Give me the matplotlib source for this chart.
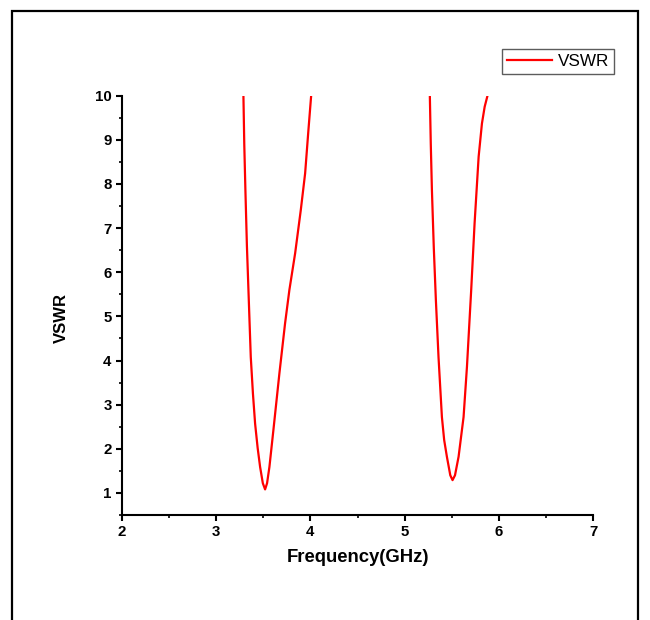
import numpy as np
import matplotlib.pyplot as plt
from matplotlib.patches import Rectangle
from matplotlib.ticker import MultipleLocator

# VSWR curve (two resonance dips, clipped at 10)
freq_band1 = [3.289, 3.298, 3.31, 3.326, 3.346, 3.367, 3.39, 3.413, 3.44,
              3.466, 3.495, 3.519, 3.54, 3.565, 3.607, 3.671, 3.731,
              3.777, 3.838, 3.898, 3.944, 3.979, 4.008]
vswr_band1 = [10.0, 8.9, 7.86, 6.6, 5.37, 4.08, 3.25, 2.57, 2.02,
              1.59, 1.22, 1.08, 1.22, 1.59, 2.42, 3.71, 4.84,
              5.6, 6.43, 7.41, 8.24, 9.22, 10.0]

freq_band2 = [5.268, 5.278, 5.29, 5.31, 5.332, 5.36, 5.396, 5.42, 5.449,
              5.485, 5.509, 5.535, 5.573, 5.626, 5.662, 5.707, 5.743,
              5.786, 5.821, 5.85, 5.88]
vswr_band2 = [10.0, 8.9, 7.86, 6.55, 5.37, 4.08, 2.72, 2.2, 1.82,
              1.4, 1.29, 1.4, 1.82, 2.72, 3.86, 5.6, 7.11,
              8.62, 9.37, 9.75, 10.0]

xticks = [2, 3, 4, 5, 6, 7]
yticks = [1, 2, 3, 4, 5, 6, 7, 8, 9, 10]

plt.rcParams['font.family'] = ['Liberation Sans', 'DejaVu Sans']

fig = plt.figure(figsize=(6.5, 6.2), dpi=100)
ax = fig.add_axes([122 / 650, 1 - 515 / 620, (593 - 122) / 650, (515 - 95.7) / 620])

# gap between the two bands
freq = freq_band1 + [np.nan] + freq_band2
vswr = vswr_band1 + [np.nan] + vswr_band2
ax.plot(freq, vswr, color='#ff0000', lw=1.6, label='VSWR')

ax.set_xlim(2, 7)
ax.set_ylim(0.5, 10)
ax.set_xticks(xticks)
ax.set_yticks(yticks)
ax.xaxis.set_minor_locator(MultipleLocator(0.5))
ax.yaxis.set_minor_locator(MultipleLocator(0.5))

for s in ['top', 'right']:
    ax.spines[s].set_visible(False)
for s in ['left', 'bottom']:
    ax.spines[s].set_linewidth(1.5)

ax.tick_params(which='major', length=4.5, width=1.5, pad=3)
ax.tick_params(which='minor', length=2.5, width=1.2)
for lab in ax.get_xticklabels() + ax.get_yticklabels():
    lab.set_fontsize(10.8)
    lab.set_fontweight('bold')

ax.set_xlabel('Frequency(GHz)', fontsize=13.3, fontweight='bold', labelpad=7)
ax.set_ylabel('VSWR', fontsize=12, fontweight='bold')
ax.yaxis.set_label_coords(-0.112, 0.47)

leg = ax.legend(loc='upper left', bbox_to_anchor=((502 - 122) / 471, 1 + (95.7 - 49) / 419.3),
                fontsize=12.3, frameon=True, fancybox=False, handlelength=2.6,
                handletextpad=0.35, borderpad=0.3, borderaxespad=0)
leg.get_frame().set_edgecolor('#333333')
leg.get_frame().set_linewidth(1.0)

# outer frame around the whole plot
fig.patches.append(Rectangle((12 / 650, -0.05), (638 - 12) / 650, 1 - 11 / 620 + 0.05,
                             transform=fig.transFigure, fill=False,
                             edgecolor='black', lw=1.6, clip_on=False))

fig.savefig('out.png', dpi=100)
